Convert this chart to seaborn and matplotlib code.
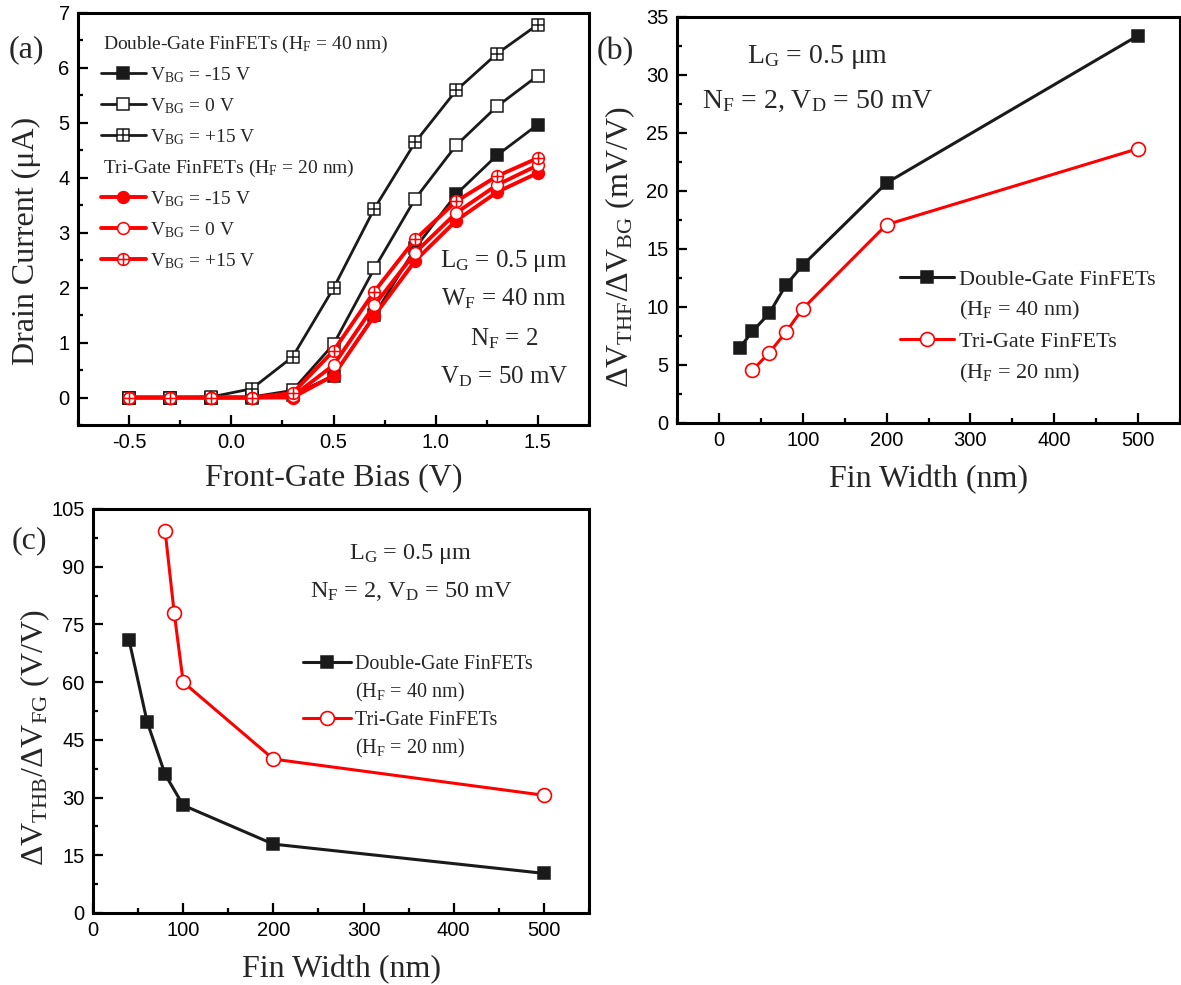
import matplotlib
matplotlib.use("Agg")
import matplotlib.pyplot as plt
import seaborn as sns
from matplotlib.path import Path
from matplotlib.ticker import MultipleLocator

# ---------------- data ----------------
vfg = [-0.5, -0.3, -0.1, 0.1, 0.3, 0.5, 0.7, 0.9, 1.1, 1.3, 1.5]
dg_m15 = [0, 0, 0, 0, 0.04, 0.40, 1.50, 2.72, 3.70, 4.41, 4.97]
dg_0 = [0, 0, 0, 0.01, 0.13, 0.97, 2.35, 3.62, 4.59, 5.30, 5.86]
dg_p15 = [0, 0, 0.01, 0.16, 0.74, 1.99, 3.44, 4.65, 5.59, 6.26, 6.79]
tg_m15 = [0, 0, 0, 0, 0.0, 0.40, 1.49, 2.49, 3.22, 3.74, 4.09]
tg_0 = [0, 0, 0, 0, 0.02, 0.59, 1.68, 2.64, 3.36, 3.87, 4.23]
tg_p15 = [0, 0, 0, 0, 0.08, 0.85, 1.93, 2.88, 3.57, 4.03, 4.36]

wf_dg_b = [25, 40, 60, 80, 100, 200, 500]
dvthf_dg = [6.5, 7.9, 9.45, 11.9, 13.6, 20.7, 33.4]
wf_tg_b = [40, 60, 80, 100, 200, 500]
dvthf_tg = [4.55, 6.05, 7.85, 9.85, 17.1, 23.65]

wf_dg_c = [40, 60, 80, 100, 200, 500]
dvthb_dg = [70.9, 49.7, 36.0, 28.0, 17.9, 10.3]
wf_tg_c = [80, 90, 100, 200, 500]
dvthb_tg = [99.2, 78.1, 60.0, 40.0, 30.6]

vbg_labels = ["V$_{\\mathrm{BG}}$ = -15 V", "V$_{\\mathrm{BG}}$ = 0 V", "V$_{\\mathrm{BG}}$ = +15 V"]

# ---------------- style ----------------
sns.set_theme(style="ticks")
plt.rcParams["font.family"] = ["Liberation Sans", "DejaVu Sans"]
plt.rcParams["mathtext.fontset"] = "custom"
plt.rcParams["mathtext.rm"] = "Liberation Serif"
plt.rcParams["mathtext.it"] = "Liberation Serif:italic"
plt.rcParams["mathtext.bf"] = "Liberation Serif:bold"
plt.rcParams["axes.unicode_minus"] = False
plt.rcParams["axes.linewidth"] = 2.2
plt.rcParams["axes.edgecolor"] = "black"

SERIF = ["Liberation Serif", "DejaVu Serif"]
RED = "#ff0000"
W, H = 1181, 985


def fx(px):
    return px / W


def fy(py):
    return 1 - py / H


sq_plus = Path.make_compound_path(
    Path([(-1, -1), (1, -1), (1, 1), (-1, 1), (-1, -1)],
         [Path.MOVETO, Path.LINETO, Path.LINETO, Path.LINETO, Path.CLOSEPOLY]),
    Path([(-1, 0), (1, 0)]), Path([(0, -1), (0, 1)]))
ci_plus = Path.make_compound_path(Path.unit_circle(), Path([(-1, 0), (1, 0)]), Path([(0, -1), (0, 1)]))

fig = plt.figure(figsize=(W / 100, H / 100), dpi=100)
axa = fig.add_axes([fx(78), fy(425), fx(589) - fx(78), fy(13) - fy(425)])
axb = fig.add_axes([fx(677), fy(423), fx(1180) - fx(677), fy(17) - fy(423)])
axc = fig.add_axes([fx(93), fy(913), fx(589) - fx(93), fy(509) - fy(913)])


def style_axes(ax):
    ax.tick_params(which="both", direction="in", top=False, right=False,
                   width=1.6, labelsize=14.5, pad=6, colors="black")
    ax.tick_params(which="major", length=7)
    ax.tick_params(which="minor", length=3.5)
    for s in ax.spines.values():
        s.set_linewidth(2.2)
        s.set_color("black")
    ax.set_facecolor("white")


# ---------------- panel (a) ----------------
ax = axa
series_a = [
    (dg_m15, "k", "s", "k", 2.0, vbg_labels[0] + " dg"),
    (dg_0, "k", "s", "white", 2.0, vbg_labels[1] + " dg"),
    (dg_p15, "k", sq_plus, "white", 2.0, vbg_labels[2] + " dg"),
    (tg_m15, RED, "o", RED, 2.8, vbg_labels[0] + " tg"),
    (tg_0, RED, "o", "white", 2.8, vbg_labels[1] + " tg"),
    (tg_p15, RED, ci_plus, "white", 2.8, vbg_labels[2] + " tg"),
]
for yv, col, mk, fc, lw, lab in series_a:
    sns.lineplot(x=vfg, y=yv, ax=ax, color=col, marker=mk, markersize=8.5,
                 markerfacecolor=fc, markeredgecolor=col, markeredgewidth=1.1,
                 linewidth=lw, errorbar=None, label=lab, legend=False)
lines = {l.get_label(): l for l in ax.get_lines()}
handles_a = [lines[s[5]] for s in series_a]

ax.set_xlim(-0.75, 1.75)
ax.set_ylim(-0.5, 7)
ax.xaxis.set_major_locator(MultipleLocator(0.5))
ax.xaxis.set_minor_locator(MultipleLocator(0.25))
ax.yaxis.set_major_locator(MultipleLocator(1))
ax.yaxis.set_minor_locator(MultipleLocator(0.5))
ax.xaxis.set_major_formatter(matplotlib.ticker.FormatStrFormatter("%.1f"))
style_axes(ax)
ax.set_xlabel("Front-Gate Bias (V)", family=SERIF, fontsize=23)
ax.set_ylabel("Drain Current (μA)", family=SERIF, fontsize=23)
ax.xaxis.set_label_coords(0.5, -0.092)
ax.yaxis.set_label_coords(-0.072, 0.447)

leg_kw = dict(frameon=False, prop={"family": SERIF, "size": 14}, handlelength=2.3,
              handletextpad=0.2, labelspacing=0.58, borderpad=0, borderaxespad=0,
              loc="upper left", bbox_transform=fig.transFigure, numpoints=1)
leg1 = ax.legend(handles=handles_a[:3], labels=vbg_labels, bbox_to_anchor=(fx(101), fy(65)), **leg_kw)
ax.add_artist(leg1)
leg2 = ax.legend(handles=handles_a[3:], labels=vbg_labels, bbox_to_anchor=(fx(101), fy(189)), **leg_kw)
fig.text(fx(103), fy(49), "Double-Gate FinFETs (H$_{\\mathrm{F}}$ = 40 nm)", family=SERIF, fontsize=14,
         ha="left", va="baseline")
fig.text(fx(103), fy(173), "Tri-Gate FinFETs (H$_{\\mathrm{F}}$ = 20 nm)", family=SERIF, fontsize=14,
         ha="left", va="baseline")
for txt, yb in [("L$_{\\mathrm{G}}$ = 0.5 μm", 267), ("W$_{\\mathrm{F}}$ = 40 nm", 305),
                ("N$_{\\mathrm{F}}$ = 2", 345), ("V$_{\\mathrm{D}}$ = 50 mV", 383)]:
    fig.text(fx(504), fy(yb), txt, family=SERIF, fontsize=18, ha="center", va="baseline")
fig.text(fx(26), fy(50), "(a)", family=SERIF, fontsize=23, ha="center", va="center")

# ---------------- panel (b) ----------------
ax = axb
sns.lineplot(x=wf_dg_b, y=dvthf_dg, ax=ax, color="k", marker="s", markersize=9,
             markerfacecolor="k", markeredgecolor="k", markeredgewidth=1.1, linewidth=2.2,
             errorbar=None, label="dg", legend=False)
sns.lineplot(x=wf_tg_b, y=dvthf_tg, ax=ax, color=RED, marker="o", markersize=10,
             markerfacecolor="white", markeredgecolor=RED, markeredgewidth=1.2, linewidth=2.2,
             errorbar=None, label="tg", legend=False)
ax.set_xlim(-50, 550)
ax.set_ylim(0, 35)
ax.xaxis.set_major_locator(MultipleLocator(100))
ax.xaxis.set_minor_locator(MultipleLocator(50))
ax.yaxis.set_major_locator(MultipleLocator(5))
ax.yaxis.set_minor_locator(MultipleLocator(2.5))
style_axes(ax)
ax.set_xlabel("Fin Width (nm)", family=SERIF, fontsize=23)
ax.set_ylabel("ΔV$_{\\mathrm{THF}}$/ΔV$_{\\mathrm{BG}}$ (mV/V)", family=SERIF, fontsize=23)
ax.xaxis.set_label_coords(0.5, -0.103)
ax.yaxis.set_label_coords(-0.08, 0.433)

blank = matplotlib.lines.Line2D([], [], linestyle="none")
lb = {l.get_label(): l for l in ax.get_lines()}
leg_kw_b = dict(leg_kw)
leg_kw_b["prop"] = {"family": SERIF, "size": 16}
leg_kw_b["handlelength"] = 2.45
leg_kw_b["labelspacing"] = 0.43
ax.legend(handles=[lb["dg"], blank, lb["tg"], blank],
          labels=["Double-Gate FinFETs", "(H$_{\\mathrm{F}}$ = 40 nm)", "Tri-Gate FinFETs", "(H$_{\\mathrm{F}}$ = 20 nm)"],
          bbox_to_anchor=(fx(900), fy(269)), **leg_kw_b)
fig.text(fx(818), fy(63), "L$_{\\mathrm{G}}$ = 0.5 μm", family=SERIF, fontsize=20, ha="center", va="baseline")
fig.text(fx(818), fy(108), "N$_{\\mathrm{F}}$ = 2, V$_{\\mathrm{D}}$ = 50 mV", family=SERIF, fontsize=20,
         ha="center", va="baseline")
fig.text(fx(615), fy(52), "(b)", family=SERIF, fontsize=23, ha="center", va="center")

# ---------------- panel (c) ----------------
ax = axc
sns.lineplot(x=wf_dg_c, y=dvthb_dg, ax=ax, color="k", marker="s", markersize=9,
             markerfacecolor="k", markeredgecolor="k", markeredgewidth=1.1, linewidth=2.2,
             errorbar=None, label="dg", legend=False)
sns.lineplot(x=wf_tg_c, y=dvthb_tg, ax=ax, color=RED, marker="o", markersize=10,
             markerfacecolor="white", markeredgecolor=RED, markeredgewidth=1.2, linewidth=2.2,
             errorbar=None, label="tg", legend=False)
ax.set_xlim(0, 550)
ax.set_ylim(0, 105)
ax.xaxis.set_major_locator(MultipleLocator(100))
ax.xaxis.set_minor_locator(MultipleLocator(50))
ax.yaxis.set_major_locator(MultipleLocator(15))
ax.yaxis.set_minor_locator(MultipleLocator(7.5))
style_axes(ax)
ax.set_xlabel("Fin Width (nm)", family=SERIF, fontsize=23)
ax.set_ylabel("ΔV$_{\\mathrm{THB}}$/ΔV$_{\\mathrm{FG}}$ (V/V)", family=SERIF, fontsize=23)
ax.xaxis.set_label_coords(0.5, -0.104)
ax.yaxis.set_label_coords(-0.083, 0.433)

lc = {l.get_label(): l for l in ax.get_lines()}
leg_kw_c = dict(leg_kw)
leg_kw_c["prop"] = {"family": SERIF, "size": 14.5}
leg_kw_c["handlelength"] = 2.4
leg_kw_c["labelspacing"] = 0.35
ax.legend(handles=[lc["dg"], blank, lc["tg"], blank],
          labels=["Double-Gate FinFETs", "(H$_{\\mathrm{F}}$ = 40 nm)", "Tri-Gate FinFETs", "(H$_{\\mathrm{F}}$ = 20 nm)"],
          bbox_to_anchor=(fx(303), fy(655)), **leg_kw_c)
fig.text(fx(411), fy(559), "L$_{\\mathrm{G}}$ = 0.5 μm", family=SERIF, fontsize=17.5, ha="center", va="baseline")
fig.text(fx(411), fy(597), "N$_{\\mathrm{F}}$ = 2, V$_{\\mathrm{D}}$ = 50 mV", family=SERIF, fontsize=17.5,
         ha="center", va="baseline")
fig.text(fx(29), fy(541), "(c)", family=SERIF, fontsize=23, ha="center", va="center")

fig.savefig("out.png", dpi=100, facecolor="white")
